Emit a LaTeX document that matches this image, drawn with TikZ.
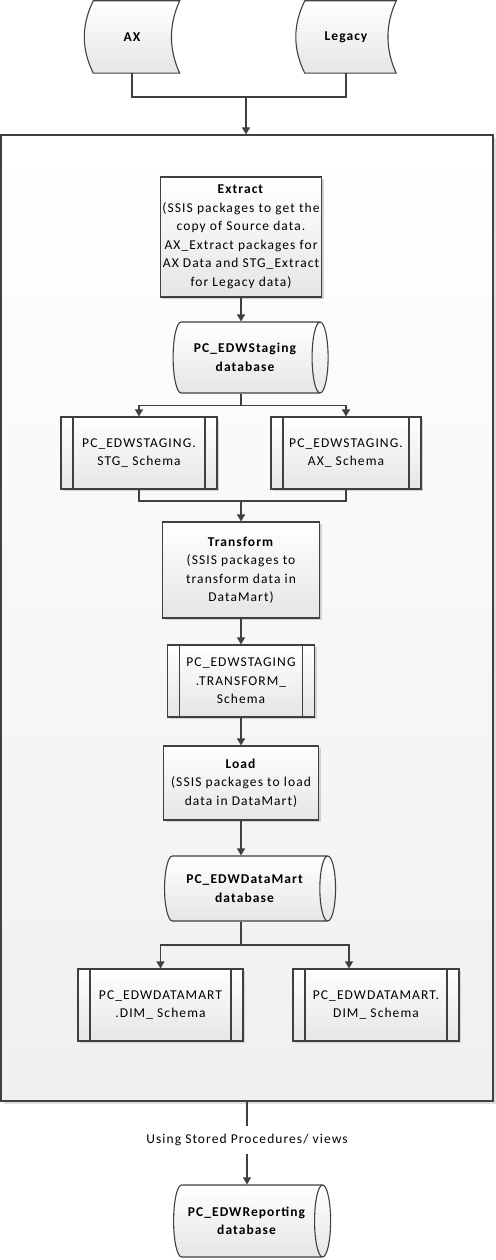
\documentclass[tikz,border=0pt]{standalone}
\usepackage{fontspec}
\setmainfont{Carlito}[LetterSpace=8]
\usetikzlibrary{positioning, calc, shapes.geometric, arrows.meta, shadows, backgrounds}

\definecolor{lineclr}{HTML}{404040}
\tikzset{
  conn/.style={draw=lineclr, line width=1.1pt},
  arrow/.style={conn, -{Triangle[width=8pt,length=7pt]}},
  shadebox/.style={draw=lineclr, line width=1.1pt, top color=white, bottom color=gray!20},
  srcnode/.style={minimum height=72pt, inner sep=0pt, font=\bfseries},
  procbox/.style={shadebox, rectangle, align=center, inner sep=2pt,
    drop shadow={shadow xshift=2pt, shadow yshift=-2pt, fill=gray!35, opacity=1}},
  subproc/.style={procbox, path picture={
      \draw[lineclr, line width=1.1pt] ([xshift=12pt]path picture bounding box.north west) -- ([xshift=12pt]path picture bounding box.south west);
      \draw[lineclr, line width=1.1pt] ([xshift=-12pt]path picture bounding box.north east) -- ([xshift=-12pt]path picture bounding box.south east);}},
  % cylinder: minimum height is the length, minimum width the diameter
  dbnode/.style={shadebox, cylinder, shape aspect=0.5, align=center, inner sep=2pt, font=\bfseries},
  framebox/.style={draw=lineclr, line width=1.1pt, top color=white, bottom color=gray!12,
    minimum width=492pt, minimum height=966pt,
    drop shadow={shadow xshift=3pt, shadow yshift=-3pt, fill=gray!25, opacity=1}},
}

\begin{document}
\fontsize{13.5}{18.5}\selectfont
\begin{tikzpicture}[x=1pt, y=1pt]
\useasboundingbox (0,0) rectangle (495,-1260);

% sources
\node[srcnode, minimum width=95pt] (ax) at (132,-37) {AX};
\node[srcnode, minimum width=100pt] (legacy) at (346,-37) {Legacy};
\begin{scope}[on background layer]
  \foreach \n in {ax,legacy}
    \draw[shadebox] ($(\n.north west)+(9,0)$) -- (\n.north east)
      .. controls ($(\n.north east)+(-11,-24)$) and ($(\n.south east)+(-11,24)$) .. (\n.south east)
      -- ($(\n.south west)+(9,0)$)
      .. controls ($(\n.south west)+(-3,24)$) and ($(\n.north west)+(-3,-24)$) .. ($(\n.north west)+(9,0)$) -- cycle;
\end{scope}

% outer frame
\node[framebox] (frame) at (247,-618) {};

\coordinate (srcjoin) at (246,-97);
\draw[conn] (ax.south) |- (srcjoin);
\draw[conn] (legacy.south) |- (srcjoin);
\draw[arrow] (srcjoin) -- (srcjoin |- frame.north);

% staging
\node[procbox, minimum width=145pt, minimum height=120pt] (extract) at (241,-237)
  {\textbf{Extract}\\(SSIS packages to get the\\copy of Source data.\\AX\_Extract packages for\\AX Data and STG\_Extract\\for Legacy data)};
\node[dbnode, minimum height=155pt, minimum width=71pt] (staging) at (245,-357.5) {PC\_EDWStaging\\database};
\node[subproc, minimum width=156pt, minimum height=72pt] (stg) at (139,-453) {PC\_EDWSTAGING.\\STG\_ Schema};
\node[subproc, minimum width=150pt, minimum height=72pt] (axs) at (346,-453) {PC\_EDWSTAGING.\\AX\_ Schema};

\draw[arrow] (extract.south) -- (extract.south |- staging.north);
\draw[conn] (extract.south |- staging.south) -- ++(0,-12) coordinate (stgsplit);
\draw[arrow] (stgsplit) -| (stg.north);
\draw[arrow] (stgsplit) -| (axs.north);

% transform and load
\node[procbox, minimum width=157pt, minimum height=96pt] (transform) at (241,-570)
  {\textbf{Transform}\\(SSIS packages to\\transform data in\\DataMart)};
\node[subproc, minimum width=147pt, minimum height=72pt] (tschema) at (241,-681) {PC\_EDWSTAGING\\.TRANSFORM\_\\Schema};
\node[procbox, minimum width=155pt, minimum height=74pt] (load) at (241,-783)
  {\textbf{Load}\\(SSIS packages to load\\data in DataMart)};

\coordinate (tfjoin) at (241,-501);
\draw[conn] (stg.south) |- (tfjoin) -| (axs.south);
\draw[arrow] (tfjoin) -- (transform.north);
\draw[arrow] (transform.south) -- (tschema.north);
\draw[arrow] (tschema.south) -- (load.north);

% datamart
\node[dbnode, minimum height=171pt, minimum width=65pt] (datamart) at (244.5,-888.5) {PC\_EDWDataMart\\database};
\node[subproc, minimum width=165pt, minimum height=72pt] (diml) at (160.5,-1005) {PC\_EDWDATAMART\\.DIM\_ Schema};
\node[subproc, minimum width=166pt, minimum height=72pt] (dimr) at (376,-1005) {PC\_EDWDATAMART.\\DIM\_ Schema};

\draw[arrow] (load.south) -- (load.south |- datamart.north);
\coordinate (dmsplit) at (241,-945);
\draw[conn] (dmsplit |- datamart.south) -- (dmsplit);
\draw[arrow] (dmsplit) -| (diml.north);
\draw[arrow] (dmsplit) -| ($(dimr.north)+(-27,0)$);

% reporting
\node[minimum height=28pt, inner sep=0pt] (usingsp) at (247,-1140) {Using Stored Procedures/ views};
\node[dbnode, minimum height=157pt, minimum width=72pt] (reporting) at (246.5,-1221) {PC\_EDWReporting\\database};
\draw[conn] (frame.south) -- (usingsp.north);
\draw[arrow] (usingsp.south) -- (usingsp.south |- reporting.north);
\end{tikzpicture}
\end{document}
